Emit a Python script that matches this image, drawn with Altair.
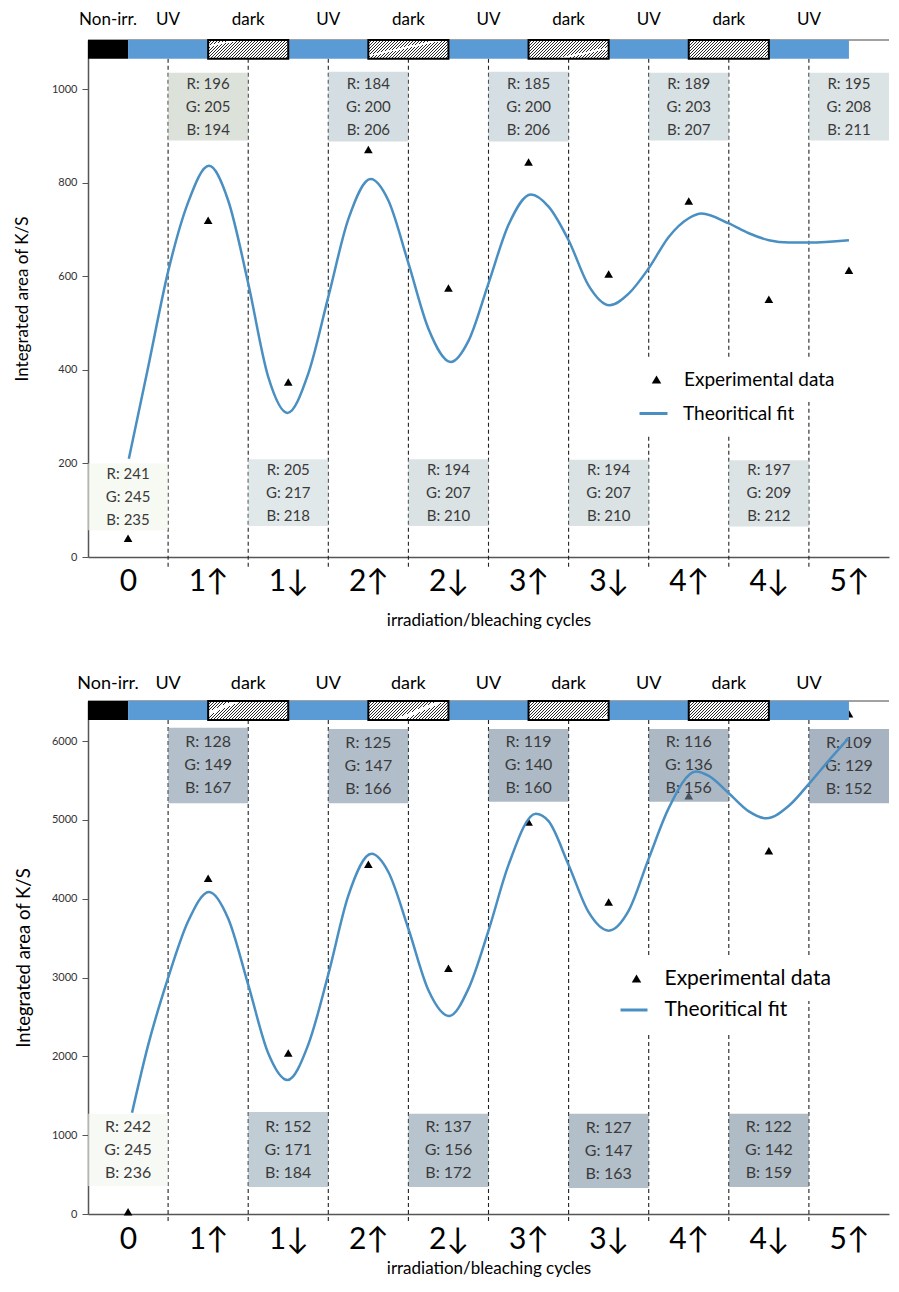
import altair as alt
import pandas as pd

# ---------------- shared data ----------------
categories = ["0", "1↑", "1↓", "2↑", "2↓", "3↑", "3↓", "4↑", "4↓", "5↑"]
cycle_pos = [0, 1, 2, 3, 4, 5, 6, 7, 8, 9]

seg_start = [-0.5, 0, 1, 2, 3, 4, 5, 6, 7, 8]
seg_end = [0, 1, 2, 3, 4, 5, 6, 7, 8, 9]
seg_kind = ["non", "uv", "dark", "uv", "dark", "uv", "dark", "uv", "dark", "uv"]
seg_label = ["Non-irr.", "UV", "dark", "UV", "dark", "UV", "dark", "UV", "dark", "UV"]

# ---------------- top panel ----------------
top_exp = [40, 720, 374, 871, 575, 844, 605, 761, 551, 613]
top_fit_x = [0.01, 0.25, 0.5, 0.75, 1.01, 1.25, 1.5, 1.75, 1.99, 2.25, 2.5, 2.75, 3.03,
             3.25, 3.5, 3.75, 4.03, 4.25, 4.5, 4.75, 5.03, 5.25, 5.5, 5.75, 6.01, 6.25,
             6.5, 6.75, 7.0, 7.16, 7.5, 7.75, 8.0, 8.25, 8.5, 9.0]
top_fit_y = [210, 405, 610, 758, 836, 762, 585, 385, 308, 392, 556, 722, 808,
             762, 628, 488, 417, 462, 585, 710, 775, 749, 677, 580, 538, 563,
             617, 684, 724, 734, 713, 692, 677, 672, 672, 677]
top_R = [241, 196, 205, 184, 194, 185, 194, 189, 197, 195]
top_G = [245, 205, 217, 200, 207, 200, 207, 203, 209, 208]
top_B = [235, 194, 218, 206, 210, 206, 210, 207, 212, 211]
top_box_lo = [57, 890, 66, 888, 66, 888, 66, 890, 65, 890]
top_box_hi = [200, 1035, 209, 1037, 209, 1037, 208, 1035, 207, 1035]
top_yticks = [0, 200, 400, 600, 800, 1000]

# ---------------- bottom panel ----------------
bot_exp = [30, 4260, 2043, 4438, 3117, 4974, 3960, 5307, 4611, 6347]
bot_fit_x = [0.05, 0.25, 0.5, 0.75, 1.01, 1.25, 1.5, 1.75, 1.99, 2.25, 2.5, 2.75, 3.04,
             3.25, 3.5, 3.75, 4.01, 4.25, 4.5, 4.75, 5.09, 5.25, 5.5, 5.75, 6.0, 6.25,
             6.5, 6.75, 7.09, 7.25, 7.5, 7.75, 7.97, 8.25, 8.5, 8.75, 9.0]
bot_fit_y = [1286, 2140, 2997, 3715, 4087, 3750, 2911, 2040, 1700, 2150, 3040, 4040, 4571,
             4340, 3620, 2840, 2513, 2860, 3597, 4430, 5080, 4985, 4430, 3830, 3596, 3850,
             4510, 5150, 5616, 5560, 5340, 5110, 5021, 5180, 5458, 5757, 6043]
bot_R = [242, 128, 152, 125, 137, 119, 127, 116, 122, 109]
bot_G = [245, 149, 171, 147, 156, 140, 147, 136, 142, 129]
bot_B = [236, 167, 184, 166, 172, 160, 163, 156, 159, 152]
bot_box_lo = [356, 5213, 343, 5213, 343, 5231, 330, 5231, 343, 5213]
bot_box_hi = [1272, 6172, 1293, 6155, 1272, 6155, 1272, 6155, 1272, 6155]
bot_yticks = [0, 1000, 2000, 3000, 4000, 5000, 6000]

FONT = "Lato"
BLUE_BAR = "#5b9bd5"
FIT_BLUE = "#4a8fc2"

label_expr = "[" + ",".join("'%s'" % c for c in categories) + "][datum.value]"


def hatch_fill(k):
    stops = []
    n = 34
    for i in range(n):
        a = i / n
        b = (i + 0.32) / n
        c = (i + 1) / n
        stops += [
            alt.GradientStop(color="#2a2a2a", offset=a),
            alt.GradientStop(color="#2a2a2a", offset=b),
            alt.GradientStop(color="#ffffff", offset=b),
            alt.GradientStop(color="#ffffff", offset=c),
        ]
    return alt.LinearGradient(gradient="linear", stops=stops, x1=0, y1=0, x2=1.2, y2=1.2 * k)


def panel(exp, fit_x, fit_y, R, G, B, lo, hi, ymax, bar_lo, yticks, W, H, p):
    xs = alt.Scale(domain=[-0.5, 9.5], nice=False, zero=False)
    ys = alt.Scale(domain=[0, ymax], nice=False, zero=False)
    x_axis = alt.Axis(values=cycle_pos, labelExpr=label_expr, title="irradiation/bleaching cycles",
                      ticks=False, labelFontSize=30, labelPadding=p["xlabpad"], labelFont=FONT,
                      labelColor="black", titleFont=FONT, titleFontSize=17, titleFontWeight="normal",
                      titleColor="black", titlePadding=p["xtitlepad"], domainColor="#555",
                      domainWidth=1.5, grid=False, labelFlush=False, labelOverlap=False)
    y_axis = alt.Axis(values=yticks, format="d", title="Integrated area of K/S", tickSize=6,
                      tickColor="#555", labelFontSize=11, labelFont=FONT, labelColor="#333",
                      labelPadding=5, titleFont=FONT, titleFontSize=p["ytitlesize"],
                      titleFontWeight="normal", titleColor="black", titlePadding=p["ytitlepad"],
                      domainColor="#555", domainWidth=1.5, grid=False)

    def X(f):
        return alt.X(f, type="quantitative", scale=xs, axis=x_axis)

    def Y(f):
        return alt.Y(f, type="quantitative", scale=ys, axis=y_axis)

    rules_df = pd.DataFrame({"b": [c + 0.5 for c in cycle_pos[:-1]], "top": bar_lo})
    rules = alt.Chart(rules_df).mark_rule(strokeDash=[4, 3], color="#222", strokeWidth=1.1).encode(
        x=X("b"), y=Y("top"), y2=alt.value(H + 10))

    pts_df = pd.DataFrame({"x": cycle_pos, "y": exp, "series": "Experimental data"})
    pts = alt.Chart(pts_df).mark_point(filled=True, color="black", size=75, opacity=1).encode(
        x=X("x"), y=Y("y"),
        shape=alt.Shape("series:N", scale=alt.Scale(range=["triangle-up"]),
                        legend=alt.Legend(title=None, orient="none", legendX=p["l1x"], legendY=p["l1y"],
                                          symbolSize=90, symbolFillColor="black", symbolStrokeColor="black",
                                          symbolStrokeWidth=0, labelFont=FONT, labelFontSize=p["legfont"],
                                          labelColor="black", labelOffset=p["l1off"], labelLimit=400,
                                          padding=12, fillColor="white", zindex=2)))

    box_df = pd.DataFrame({"p": cycle_pos, "lo": lo, "hi": hi, "R": R, "G": G, "B": B})
    box_df["x1"] = box_df["p"] - 0.5
    box_df["x2"] = box_df["p"] + 0.5
    box_df["ymid"] = (box_df["lo"] + box_df["hi"]) / 2
    box_df["fill"] = ["rgb(%d,%d,%d)" % t for t in zip(R, G, B)]
    box_df["text"] = ["R: %d\nG: %d\nB: %d" % t for t in zip(R, G, B)]
    boxes = alt.Chart(box_df).mark_rect(opacity=0.6).encode(
        x=X("x1"), x2="x2", y=Y("lo"), y2="hi", fill=alt.Fill("fill:N", scale=None))
    boxtext = alt.Chart(box_df).mark_text(font=FONT, fontSize=p["boxfont"], color="#3a3a3a",
                                          lineBreak="\n", lineHeight=p["boxlh"], baseline="middle",
                                          dy=-p["boxlh"]).encode(
        x=X("p"), y=Y("ymid"), text="text:N")

    line_df = pd.DataFrame({"x": fit_x, "y": fit_y, "series": "Theoritical fit"})
    line = alt.Chart(line_df).mark_line(interpolate="monotone", strokeWidth=2.5).encode(
        x=X("x"), y=Y("y"),
        color=alt.Color("series:N", scale=alt.Scale(range=[FIT_BLUE]),
                        legend=alt.Legend(title=None, orient="none", legendX=p["l2x"], legendY=p["l2y"],
                                          symbolType="stroke", symbolSize=p["strokesize"],
                                          symbolStrokeWidth=3, labelFont=FONT, labelFontSize=p["legfont"],
                                          labelColor="black", labelOffset=p["l2off"], labelLimit=400,
                                          padding=12, fillColor="white", zindex=1)))

    seg_df = pd.DataFrame({"start": seg_start, "end": seg_end, "kind": seg_kind, "label": seg_label})
    seg_df["mid"] = (seg_df["start"] + seg_df["end"]) / 2
    seg_df["lo"] = bar_lo
    seg_df["hi"] = ymax
    seg_df["color"] = seg_df["kind"].map({"non": "black", "uv": BLUE_BAR, "dark": "white"})

    border_df = pd.DataFrame({"a": [xs.domain[0]], "b": [xs.domain[1]], "y": [ymax]})
    border = alt.Chart(border_df).mark_rule(color="#444", strokeWidth=1).encode(
        x=X("a"), x2="b", y=Y("y"))

    solid = alt.Chart(seg_df).transform_filter("datum.kind != 'dark'").mark_rect().encode(
        x=X("start"), x2="end", y=Y("lo"), y2="hi", fill=alt.Fill("color:N", scale=None))
    hatch = alt.Chart(seg_df).transform_filter("datum.kind == 'dark'").mark_rect(
        fill=hatch_fill(p["hatchk"]), stroke="black", strokeWidth=2).encode(
        x=X("start"), x2="end", y=Y("lo"), y2="hi")
    labels = alt.Chart(seg_df).mark_text(font=FONT, fontSize=p["segfont"], baseline="middle",
                                         color="black").encode(
        x=X("mid"), y=alt.value(p["segy"]), text="label:N")

    return alt.layer(rules, pts, boxes, boxtext, line, border, solid, hatch, labels).properties(
        width=W, height=H)


top = panel(top_exp, top_fit_x, top_fit_y, top_R, top_G, top_B, top_box_lo, top_box_hi,
            1105, 1065, top_yticks, 801, 517,
            dict(xlabpad=9, xtitlepad=16, ytitlesize=17, ytitlepad=20, l1x=547, l1y=318,
                 l1off=18, l2x=538, l2y=346, l2off=14, strokesize=784, legfont=19,
                 boxfont=15, boxlh=23, hatchk=0.2375, segfont=17, segy=-20))

bottom = panel(bot_exp, bot_fit_x, bot_fit_y, bot_R, bot_G, bot_B, bot_box_lo, bot_box_hi,
               6510, 6270, bot_yticks, 801, 513,
               dict(xlabpad=10, xtitlepad=6, ytitlesize=18.5, ytitlepad=18, l1x=526, l1y=255,
                    l1off=17.5, l2x=519, l2y=282, l2off=15.5, strokesize=729, legfont=21,
                    boxfont=16, boxlh=23, hatchk=0.2375, segfont=18, segy=-17))

chart = alt.vconcat(top, bottom, spacing=47).resolve_scale(
    x="independent", y="independent", color="independent", shape="independent", fill="independent"
).resolve_legend(color="independent", shape="independent").configure(
    padding={"left": 5, "top": 3, "right": 0, "bottom": 5}, font=FONT
).configure_view(stroke=None)

chart.save("out.html", embed_options={"renderer": "svg", "actions": False})
